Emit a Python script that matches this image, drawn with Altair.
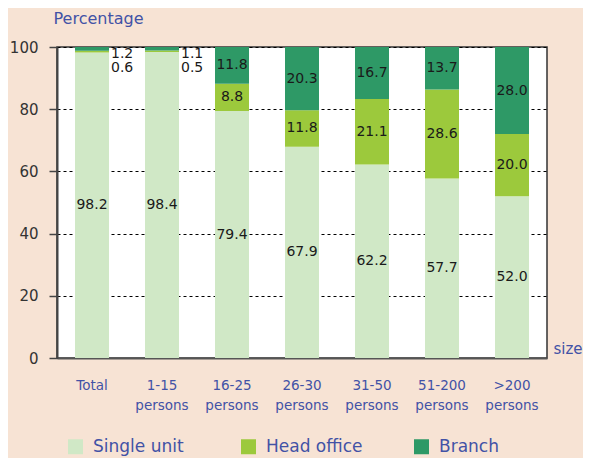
import altair as alt
import pandas as pd

categories = ["Total", "1-15 persons", "16-25 persons", "26-30 persons",
              "31-50 persons", "51-200 persons", ">200 persons"]
types = ["Single unit", "Head office", "Branch"]
single_unit = [98.2, 98.4, 79.4, 67.9, 62.2, 57.7, 52.0]
head_office = [0.6, 0.5, 8.8, 11.8, 21.1, 28.6, 20.0]
branch = [1.2, 1.1, 11.8, 20.3, 16.7, 13.7, 28.0]
colors = ["#d0e8c6", "#9cc93c", "#2e9966"]

BLUE = "#4252a6"
FONT = "DejaVu Sans"

rows = []
for i, cat in enumerate(categories):
    vals = [single_unit[i], head_office[i], branch[i]]
    start = 0.0
    # small segments get their labels stacked to the right, from the top down
    small_rank = {}
    k = 0
    for j in (2, 1, 0):
        if vals[j] < 3:
            small_rank[j] = k
            k += 1
    for j, t in enumerate(types):
        v = vals[j]
        end = start + v
        if j in small_rank:
            ly = 97.8 - 4.7 * small_rank[j]
            outside = True
        else:
            ly = (start + end) / 2
            outside = False
        rows.append(dict(cat=cat, type=t, value=v, order=j, start=start,
                         end=end, ly=ly, outside=outside))
        start = end
df = pd.DataFrame(rows)

x_enc = alt.X("cat:N", sort=categories,
              scale=alt.Scale(paddingInner=0, paddingOuter=0),
              axis=alt.Axis(title="size", titleAlign="left", titleX=496,
                            titleY=-10, titleBaseline="middle",
                            titleFontSize=15, titleFontWeight="normal",
                            titleColor=BLUE, titleFont=FONT,
                            labelAngle=0, labelColor=BLUE, labelFontSize=13.5,
                            labelFont=FONT, labelPadding=20,
                            labelLineHeight=20,
                            labelExpr="split(datum.label, ' ')",
                            ticks=False, domainColor="#555", domainWidth=2))

bars = alt.Chart(df).mark_bar(size=34).encode(
    x=x_enc,
    y=alt.Y("start:Q", scale=alt.Scale(domain=[0, 100], nice=False),
            axis=alt.Axis(values=[0, 20, 40, 60, 80, 100], title="Percentage",
                          titleAngle=0, titleAlign="left", titleX=-4,
                          titleY=-24, titleBaseline="alphabetic",
                          titleFontSize=16, titleFontWeight="normal",
                          titleColor=BLUE, titleFont=FONT,
                          labelFontSize=15, labelColor="#333", labelFont=FONT,
                          labelPadding=11, tickSize=8, tickColor="#444",
                          tickWidth=1.5,
                          domainColor="#444", domainWidth=2,
                          grid=True, gridColor="#000", gridDash=[3, 3],
                          gridWidth=1)),
    y2="end:Q",
    color=alt.Color("type:N", sort=types,
                    scale=alt.Scale(domain=types, range=colors),
                    legend=alt.Legend(title=None, orient="none", legendX=10,
                                      legendY=391, direction="horizontal",
                                      columns=3, gridAlign="all",
                                      columnPadding=50, symbolType="square",
                                      symbolSize=225, symbolStrokeWidth=0,
                                      labelFontSize=17, labelColor=BLUE,
                                      labelFont=FONT, labelOffset=9,
                                      labelLimit=200)),
    order=alt.Order("order:Q"),
)

inside = alt.Chart(df).transform_filter("!datum.outside").mark_text(
    fontSize=14, font=FONT, color="#1a1a1a", align="center", baseline="middle"
).encode(
    x=alt.X("cat:N", sort=categories),
    y=alt.Y("ly:Q"),
    text=alt.Text("value:Q", format=".1f"),
)

outside = alt.Chart(df).transform_filter("datum.outside").mark_text(
    fontSize=14, font=FONT, color="#1a1a1a", align="left", baseline="middle",
    dx=19
).encode(
    x=alt.X("cat:N", sort=categories),
    y=alt.Y("ly:Q"),
    text=alt.Text("value:Q", format=".1f"),
)

chart = alt.layer(bars, inside, outside).properties(
    width=490, height=311,
    autosize=alt.AutoSizeParams(type="none"),
    padding={"left": 49, "top": 39, "right": 36, "bottom": 100},
    background="#f7e3d4",
).configure_view(fill="white", stroke="#333", strokeWidth=1.5)

chart.save("out.html", embed_options={"renderer": "svg", "actions": False})
